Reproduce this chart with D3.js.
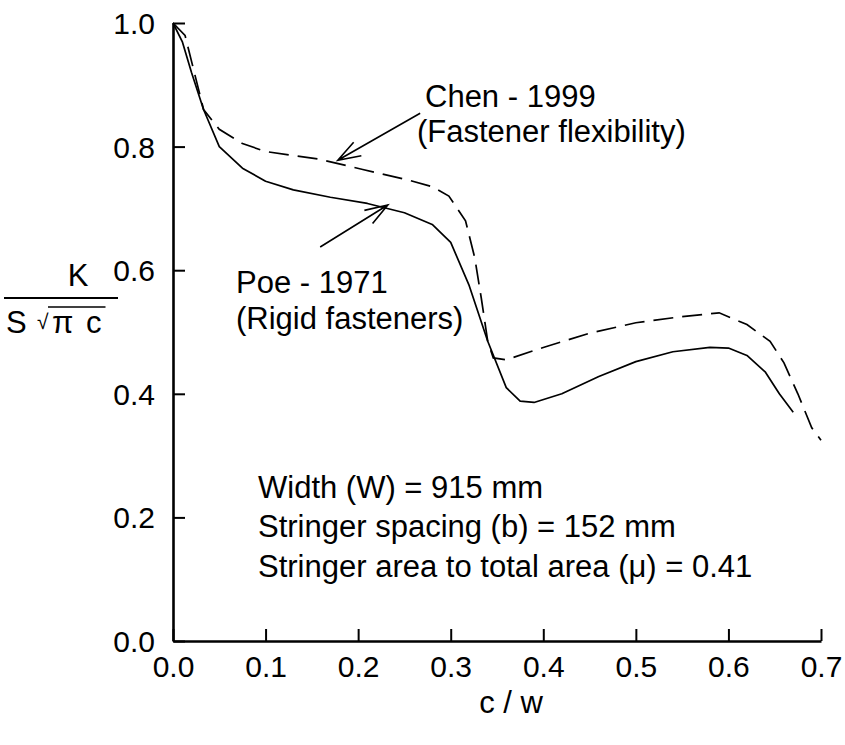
<!DOCTYPE html>
<html>
<head>
<meta charset="utf-8">
<script src="https://cdn.jsdelivr.net/npm/d3@7/dist/d3.min.js"></script>
<style>
  html, body { margin: 0; padding: 0; background: #fff; }
  svg text { font-family: "Liberation Sans", Arial, Helvetica, sans-serif; fill: #000; }
</style>
</head>
<body>
<svg id="chart" width="845" height="745"></svg>
<script>
// ---- data ----
const poeX = [0, 0.01, 0.02, 0.033, 0.05, 0.075, 0.1, 0.13, 0.17, 0.21, 0.25, 0.28, 0.30, 0.32, 0.34, 0.36, 0.375, 0.39, 0.42, 0.46, 0.50, 0.54, 0.58, 0.60, 0.62, 0.64, 0.655, 0.67];
const poeY = [1.0, 0.97, 0.92, 0.86, 0.80, 0.765, 0.744, 0.730, 0.718, 0.708, 0.693, 0.674, 0.645, 0.575, 0.485, 0.41, 0.388, 0.386, 0.40, 0.428, 0.452, 0.468, 0.475, 0.474, 0.462, 0.435, 0.40, 0.37];
const chenX = [0, 0.013, 0.033, 0.05, 0.075, 0.1, 0.157, 0.205, 0.254, 0.28, 0.298, 0.316, 0.326, 0.333, 0.34, 0.346, 0.36, 0.40, 0.45, 0.50, 0.55, 0.59, 0.62, 0.645, 0.66, 0.675, 0.69, 0.70];
const chenY = [1.0, 0.98, 0.86, 0.828, 0.805, 0.792, 0.780, 0.763, 0.746, 0.735, 0.72, 0.68, 0.62, 0.555, 0.485, 0.458, 0.455, 0.475, 0.498, 0.515, 0.525, 0.531, 0.512, 0.485, 0.45, 0.40, 0.345, 0.325];
const xTicks = [0, 0.1, 0.2, 0.3, 0.4, 0.5, 0.6, 0.7];
const yTicks = [0, 0.2, 0.4, 0.6, 0.8, 1.0];
const xLabel = "c / w";
const chenLabel = ["Chen - 1999", "(Fastener flexibility)"];
const poeLabel = ["Poe - 1971", "(Rigid fasteners)"];
const infoLines = ["Width (W) = 915 mm", "Stringer spacing (b) = 152 mm", "Stringer area to total area (\u03bc) = 0.41"];
// arrows: [fromX, fromY, tipX, tipY] in data units
const chenArrow = [0.267, 0.854, 0.178, 0.778];
const poeArrow = [0.159, 0.6375, 0.232, 0.7055];

// ---- layout ----
const svg = d3.select("#chart");
const x = d3.scaleLinear().domain([0, 0.7]).range([173, 821]);
const y = d3.scaleLinear().domain([0, 1]).range([641, 23]);
const FS = 31, TFS = 30;

// axes
const yAxis = d3.axisLeft(y).tickValues(yTicks).tickFormat(d3.format(".1f"))
  .tickSizeInner(-12).tickSizeOuter(0).tickPadding(18);
const xAxis = d3.axisBottom(x).tickValues(xTicks).tickFormat(d3.format(".1f"))
  .tickSizeInner(-12).tickSizeOuter(0).tickPadding(15);

const gy = svg.append("g").attr("transform", `translate(${x(0)},0)`).call(yAxis);
const gx = svg.append("g").attr("transform", `translate(0,${y(0)})`).call(xAxis);
[gx, gy].forEach(g => {
  g.select(".domain").attr("stroke", "#000").attr("stroke-width", 2.6);
  g.selectAll(".tick line").attr("stroke", "#000").attr("stroke-width", 2);
  g.selectAll(".tick text").attr("font-size", TFS).attr("font-family", "Liberation Sans, Arial, sans-serif").attr("fill", "#000");
});
gy.selectAll(".tick text").attr("dy", "0.35em");

// curves
const line = d3.line().x(d => x(d[0])).y(d => y(d[1]));
const poe = poeX.map((v, i) => [v, poeY[i]]);
const chen = chenX.map((v, i) => [v, chenY[i]]);
svg.append("path").datum(poe).attr("d", line).attr("fill", "none")
  .attr("stroke", "#000").attr("stroke-width", 1.7).attr("stroke-linejoin", "round");
svg.append("path").datum(chen).attr("d", line).attr("fill", "none")
  .attr("stroke", "#000").attr("stroke-width", 1.7).attr("stroke-dasharray", "20,9");

// arrows
function arrow(a) {
  const x1 = x(a[0]), y1 = y(a[1]), x2 = x(a[2]), y2 = y(a[3]);
  const ang = Math.atan2(y2 - y1, x2 - x1);
  const L = 24, h = 0.33;
  const b1 = [x2 - L * Math.cos(ang - h), y2 - L * Math.sin(ang - h)];
  const b2 = [x2 - L * Math.cos(ang + h), y2 - L * Math.sin(ang + h)];
  svg.append("path")
    .attr("d", `M${x1},${y1}L${x2},${y2}M${b1[0]},${b1[1]}L${x2},${y2}L${b2[0]},${b2[1]}`)
    .attr("fill", "none").attr("stroke", "#000").attr("stroke-width", 1.6);
}
arrow(chenArrow);
arrow(poeArrow);

// annotation text
function textLines(lines, xs, baselines) {
  lines.forEach((t, i) => {
    svg.append("text").attr("x", xs[i]).attr("y", baselines[i]).attr("font-size", FS).text(t);
  });
}
textLines(chenLabel, [425, 417], [107, 142]);
textLines(poeLabel, [236, 236], [293, 329]);
textLines(infoLines, [258, 258, 258], [498, 537, 577]);

// x label
svg.append("text").attr("x", 511).attr("y", 713).attr("text-anchor", "middle")
  .attr("font-size", FS).text(xLabel);

// y label: K / (S sqrt(pi c))
svg.append("text").attr("x", 78).attr("y", 286).attr("text-anchor", "middle").attr("font-size", FS).text("K");
svg.append("line").attr("x1", 4).attr("x2", 118).attr("y1", 298).attr("y2", 298).attr("stroke", "#000").attr("stroke-width", 2);
svg.append("text").attr("x", 6).attr("y", 333).attr("font-size", FS).text("S");
const sqT = svg.append("text").attr("x", 37).attr("y", 329).attr("font-size", 21).text("\u221a");
svg.append("text").attr("x", 52).attr("y", 333).attr("font-size", FS).text("\u03c0");
const cT = svg.append("text").attr("x", 86).attr("y", 333).attr("font-size", FS).text("c");
const bb = cT.node().getBBox();
const sq = sqT.node().getBBox();
svg.append("line").attr("x1", sq.x + sq.width - 1).attr("x2", bb.x + bb.width + 4)
  .attr("y1", 307).attr("y2", 307).attr("stroke", "#000").attr("stroke-width", 1.5);
</script>
</body>
</html>
